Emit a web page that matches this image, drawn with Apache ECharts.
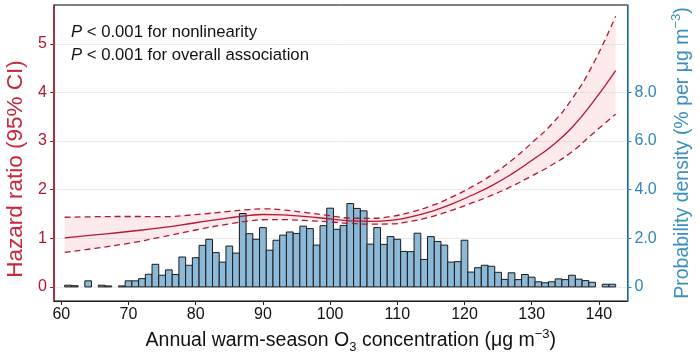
<!DOCTYPE html>
<html><head><meta charset="utf-8">
<script src="https://cdn.jsdelivr.net/npm/echarts@6/dist/echarts.min.js"></script>
<style>html,body{margin:0;padding:0;background:#fff}#c{width:700px;height:355px}</style>
</head><body><div id="c"></div>
<script>
// Histogram (bin centres, bin width 1 µg/m3) and probability density (% per µg m-3)
const binCenters = [61,62,63,64,65,66,67,68,69,70,71,72,73,74,75,76,77,78,79,80,81,82,83,84,85,86,87,88,89,90,91,92,93,94,95,96,97,98,99,100,101,102,103,104,105,106,107,108,109,110,111,112,113,114,115,116,117,118,119,120,121,122,123,124,125,126,127,128,129,130,131,132,133,134,135,136,137,138,139,140,141,142];
const density = [0.07,0.05,0,0.25,0,0.07,0.04,0,0.04,0.25,0.25,0.34,0.52,0.93,0.48,0.70,0.51,1.23,0.89,1.20,1.71,1.96,1.41,1.02,1.68,1.39,3.02,2.19,1.96,2.44,1.51,1.92,2.13,2.26,2.20,2.50,2.40,1.72,2.52,3.24,2.37,2.53,3.43,3.23,3.13,1.76,2.44,1.75,2.07,1.96,1.46,1.45,2.21,1.13,2.07,1.87,1.72,1.02,1.04,1.92,0.61,0.79,0.89,0.85,0.60,0.31,0.58,0.30,0.51,0.40,0.21,0.17,0.21,0.33,0.30,0.48,0.32,0.26,0.19,0,0.11,0.11];

// Hazard ratio curve with 95% CI
const curveX  = [60.5,65,70,75,80,85,88,90,93,96,100,103,106,109,112,115,118,121,124,127,130,133,136,139,142.5];
const hr      = [1.01,1.07,1.14,1.22,1.32,1.42,1.47,1.49,1.48,1.45,1.40,1.36,1.35,1.37,1.44,1.55,1.70,1.88,2.08,2.32,2.60,2.90,3.28,3.78,4.45];
const hrUpper = [1.433,1.444,1.449,1.446,1.488,1.554,1.592,1.606,1.584,1.537,1.464,1.416,1.412,1.448,1.537,1.666,1.841,2.053,2.299,2.603,2.961,3.352,3.867,4.547,5.571];
const hrLower = [0.712,0.793,0.897,1.029,1.171,1.298,1.357,1.382,1.383,1.368,1.338,1.307,1.291,1.296,1.350,1.442,1.570,1.722,1.882,2.068,2.283,2.509,2.782,3.142,3.554];

const xTicks = [60,70,80,90,100,110,120,130,140];
const hrTicks = [0,1,2,3,4,5];
const densityTicks = [0,2,4,6,8];

const RED = '#b5172f', BLUE = '#2f86b8';
const FONT = 'Liberation Sans, Arial, sans-serif';

const pair = (xs, ys) => xs.map((x, i) => [x, ys[i]]);
// [y, x] order so that stacking happens on the y value
const pairYX = (xs, ys) => xs.map((x, i) => [ys[i], x]);
const bandWidth = hrUpper.map((u, i) => u - hrLower[i]);

const chart = echarts.init(document.getElementById('c'), null, {renderer: 'canvas'});
chart.setOption({
  animation: false,
  backgroundColor: '#fff',
  textStyle: {fontFamily: FONT},
  grid: {left: 54, right: 72.5, top: 5, bottom: 54, containLabel: false, outerBoundsMode: 'none',
    show: true, borderColor: '#000', borderWidth: 1, backgroundColor: 'transparent'},
  xAxis: {
    type: 'value', min: 58.91, max: 144.26,
    axisLine: {onZero: false, lineStyle: {color: '#222', width: 1.2}},
    axisTick: {customValues: xTicks, length: 4, lineStyle: {color: '#222'}},
    axisLabel: {customValues: xTicks, color: '#111', fontSize: 16, margin: 6, fontFamily: FONT},
    splitLine: {show: false},
    name: 'Annual warm-season O{sub|3} concentration (μg m{sup|−3})',
    nameLocation: 'middle', nameGap: 24,
    nameTextStyle: {fontSize: 19.5, color: '#111', lineHeight: 26, fontFamily: FONT, padding: [0, 0, 0, 20],
      rich: {sub: {fontSize: 13, verticalAlign: 'bottom', lineHeight: 26}, sup: {fontSize: 13, verticalAlign: 'top', lineHeight: 26}}}
  },
  yAxis: [{
    type: 'value', min: -0.29, max: 5.8, position: 'left',
    axisLine: {show: true, onZero: false, lineStyle: {color: RED, width: 1.5}},
    axisTick: {show: true, customValues: hrTicks, length: 4, lineStyle: {color: RED}},
    axisLabel: {customValues: hrTicks, color: RED, fontSize: 16, margin: 7, fontFamily: FONT},
    splitLine: {show: true, lineStyle: {color: '#ebebeb', width: 1}},
    name: 'Hazard ratio (95% CI)', nameLocation: 'middle', nameGap: 23,
    nameTextStyle: {fontSize: 22.5, color: '#c8283e', fontFamily: FONT, padding: [0, 32, 0, 0]}
  }, {
    type: 'value', min: -0.58, max: 11.6, position: 'right',
    axisLine: {show: true, onZero: false, lineStyle: {color: BLUE, width: 1.5}},
    axisTick: {show: true, customValues: densityTicks, length: 4, lineStyle: {color: BLUE}},
    axisLabel: {customValues: densityTicks, color: BLUE, fontSize: 16, margin: 7, fontFamily: FONT,
      formatter: v => v === 0 ? '0' : v.toFixed(1)},
    splitLine: {show: false},
    name: 'Probability density (% per μg m{sup|−3})', nameLocation: 'middle', nameGap: 42,
    nameTextStyle: {fontSize: 19.5, color: '#3a8fc1', fontFamily: FONT, lineHeight: 26,
      rich: {sup: {fontSize: 13, verticalAlign: 'top', lineHeight: 26}}}
  }],
  series: [
    {type: 'line', name: 'lowerBase', data: pairYX(curveX, hrLower), encode: {x: 1, y: 0}, stack: 'ci', smooth: true, symbol: 'none',
      lineStyle: {opacity: 0}, silent: true, z: 1},
    {type: 'line', name: 'band', data: pairYX(curveX, bandWidth), encode: {x: 1, y: 0}, stack: 'ci', smooth: true, symbol: 'none',
      lineStyle: {opacity: 0}, areaStyle: {color: 'rgba(236,120,140,0.22)'}, silent: true, z: 1},
    {type: 'custom', name: 'hist', xAxisIndex: 0, yAxisIndex: 1, z: 2,
      data: pair(binCenters, density), encode: {x: 0, y: 1},
      renderItem: function (params, api) {
        const c = api.value(0), h = api.value(1);
        if (!h) return null;
        const p0 = api.coord([c - 0.5, 0]);
        const p1 = api.coord([c + 0.5, h]);
        return {type: 'rect', shape: {x: p0[0], y: p1[1], width: p1[0] - p0[0], height: p0[1] - p1[1]},
          style: {fill: '#8db9d9', stroke: '#1a1a1a', lineWidth: 1}};
      }},
    {type: 'line', name: 'upper', data: pair(curveX, hrUpper), smooth: true, symbol: 'none',
      lineStyle: {color: RED, width: 1.3, type: [6, 4]}, z: 3},
    {type: 'line', name: 'lower', data: pair(curveX, hrLower), smooth: true, symbol: 'none',
      lineStyle: {color: RED, width: 1.3, type: [6, 4]}, z: 3},
    {type: 'line', name: 'hr', data: pair(curveX, hr), smooth: true, symbol: 'none',
      lineStyle: {color: RED, width: 1.3}, z: 3}
  ],
  graphic: [
    {type: 'text', x: 71, y: 32, style: {text: '{i|P} < 0.001 for nonlinearity', fontSize: 16.7, fontFamily: FONT, fill: '#111', verticalAlign: 'middle',
      rich: {i: {fontStyle: 'italic', fontSize: 16.7, fontFamily: FONT}}}},
    {type: 'text', x: 71, y: 55.5, style: {text: '{i|P} < 0.001 for overall association', fontSize: 16.7, fontFamily: FONT, fill: '#111', verticalAlign: 'middle',
      rich: {i: {fontStyle: 'italic', fontSize: 16.7, fontFamily: FONT}}}}
  ]
});
</script></body></html>
